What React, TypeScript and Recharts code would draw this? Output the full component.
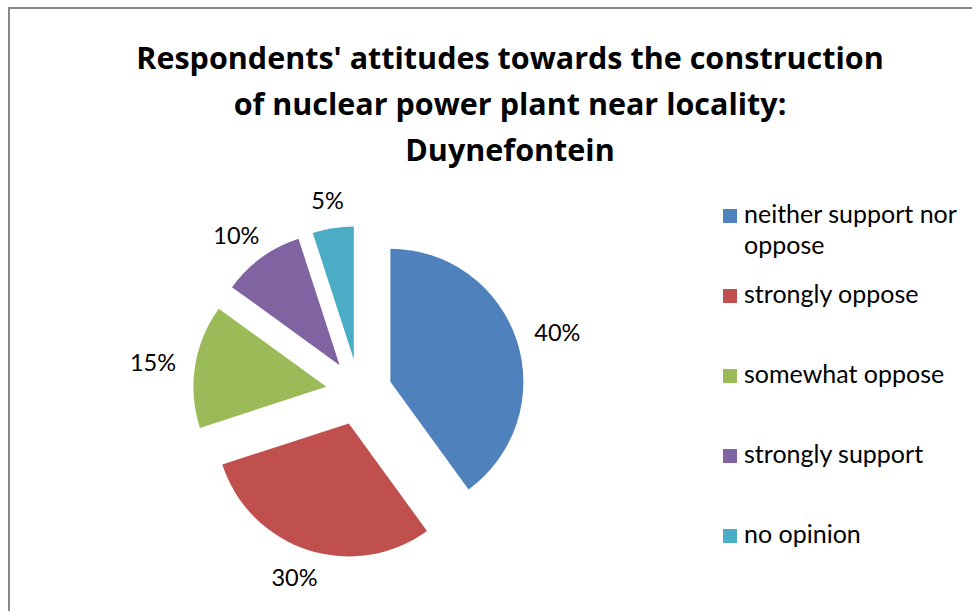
import React from 'react';
import { PieChart, Pie, Cell } from 'recharts';

// survey answers, in the order Excel draws them (clockwise from 12 o'clock)
const categories = [
  'neither support nor oppose',
  'strongly oppose',
  'somewhat oppose',
  'strongly support',
  'no opinion',
];
const shares = [40, 30, 15, 10, 5];
const colors = ['#4F81BD', '#C0504D', '#9BBB59', '#8064A2', '#4BACC6'];
const titleLines = [
  "Respondents' attitudes towards the construction",
  'of nuclear power plant near locality:',
  'Duynefontein',
];

const data = categories.map((name, i) => ({ name, value: shares[i] }));

const RADIAN = Math.PI / 180;
const CENTER_X = 359;
const CENTER_Y = 392;
const RADIUS = 133;
const EXPLODE = 33;
const LABEL_SIZE = 23.5;
const FONT = 'Lato, "Open Sans", sans-serif';

// where each slice gets pushed out to (along its bisector)
const total = shares.reduce((a, b) => a + b, 0);
const explodedCenters = shares.map((v, i) => {
  const before = shares.slice(0, i).reduce((a, b) => a + b, 0);
  const theta = (360 * (before + v / 2)) / total; // clockwise from top
  return {
    cx: CENTER_X + EXPLODE * Math.sin(theta * RADIAN),
    cy: CENTER_Y - EXPLODE * Math.cos(theta * RADIAN),
  };
});

// outside-end label: the text box sits a small gap beyond the arc
function makeLabel(slice: number) {
  return (props: any) => {
    const { cx, cy, midAngle, outerRadius, percent, index, name } = props;
    if (index !== slice && name !== categories[slice]) return null;
    const text = `${Math.round(percent * 100)}%`;
    const halfW = (text.length * LABEL_SIZE * 0.64) / 2;
    const halfH = 8.5;
    const ux = Math.cos(-midAngle * RADIAN);
    const uy = Math.sin(-midAngle * RADIAN);
    const r = outerRadius + 20;
    const x = cx + r * ux + ux * halfW;
    const y = cy + r * uy + uy * halfH;
    return (
      <text
        x={x}
        y={y}
        textAnchor="middle"
        dominantBaseline="central"
        fill="#000"
        fontSize={LABEL_SIZE}
        fontFamily={FONT}
      >
        {text}
      </text>
    );
  };
}

function LegendBox() {
  return (
    <div style={{ position: 'absolute', left: 723, top: 198, fontFamily: FONT, fontSize: 25, color: '#000' }}>
      {categories.map((c, i) => (
        <div key={c} style={{ position: 'relative', height: 80, width: 245 }}>
          <div
            style={{
              position: 'absolute',
              left: 0,
              top: 11,
              width: 14,
              height: 14,
              background: colors[i],
            }}
          />
          <div style={{ position: 'absolute', left: 21, top: 0, width: 224, lineHeight: '31px' }}>
            {c}
          </div>
        </div>
      ))}
    </div>
  );
}

export default function App() {
  return (
    <div style={{ position: 'absolute', left: 0, top: 0, width: 972, height: 611, background: '#fff', overflow: 'hidden' }}>
      <div
        style={{
          position: 'absolute',
          left: 8,
          top: 7,
          width: 980,
          height: 620,
          borderTop: '2px solid #878787',
          borderLeft: '2px solid #878787',
        }}
      />
      <div
        style={{
          position: 'absolute',
          left: 0,
          width: 1020,
          top: 34,
          textAlign: 'center',
          fontFamily: '"Open Sans", Lato, sans-serif',
          fontWeight: 700,
          fontSize: 30.5,
          lineHeight: '46px',
          color: '#000',
        }}
      >
        {titleLines.map((l) => (
          <div key={l}>{l}</div>
        ))}
      </div>
      <div style={{ position: 'absolute', left: 0, top: 0 }}>
        <PieChart width={972} height={611} margin={{ top: 0, right: 0, bottom: 0, left: 0 }}>
          {explodedCenters.map((c, s) => (
            <Pie
              key={s}
              data={data}
              dataKey="value"
              nameKey="name"
              cx={c.cx}
              cy={c.cy}
              outerRadius={RADIUS}
              startAngle={90}
              endAngle={-270}
              stroke="none"
              label={makeLabel(s)}
              labelLine={false}
              isAnimationActive={false}
            >
              {data.map((d, i) => (
                <Cell key={d.name} fill={i === s ? colors[i] : 'transparent'} stroke="none" />
              ))}
            </Pie>
          ))}
        </PieChart>
      </div>
      <LegendBox />
    </div>
  );
}
